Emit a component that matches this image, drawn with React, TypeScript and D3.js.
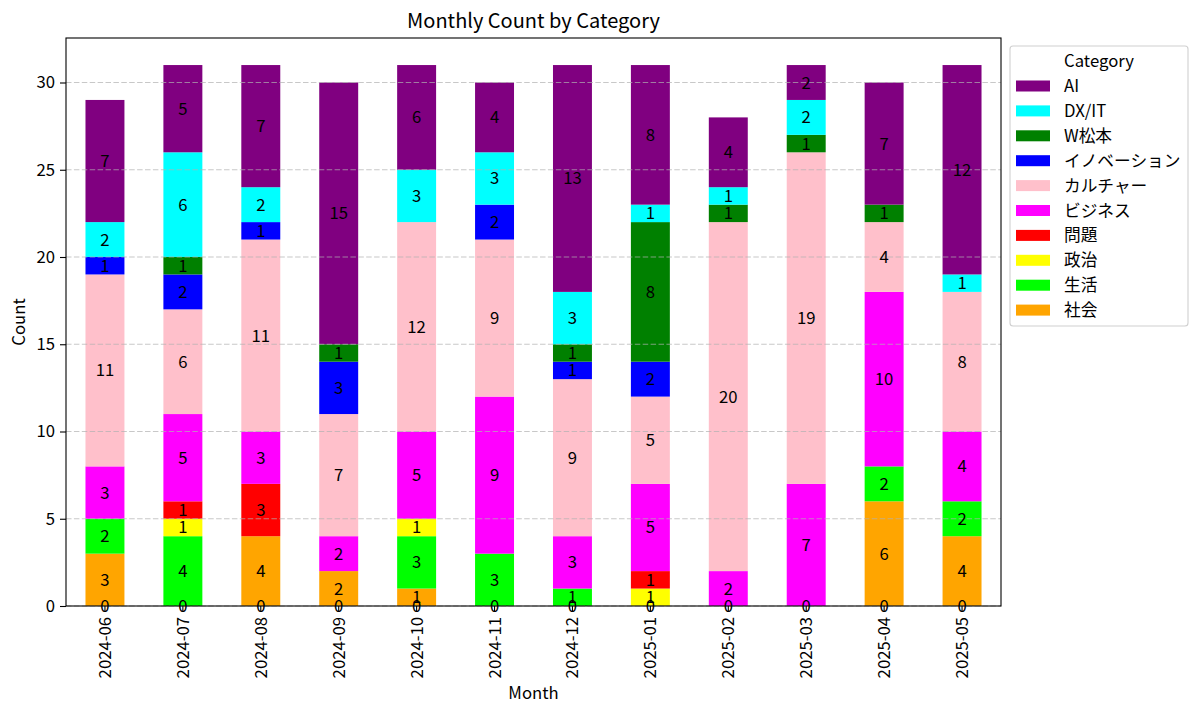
import * as React from 'react';
import * as d3 from 'd3';
import {useEffect, useRef} from 'react';

const months = ['2024-06', '2024-07', '2024-08', '2024-09', '2024-10', '2024-11',
    '2024-12', '2025-01', '2025-02', '2025-03', '2025-04', '2025-05'];

// stack order, bottom to top
const categories = ['社会', '生活', '政治', '問題', 'ビジネス', 'カルチャー', 'イノベーション', 'W松本', 'DX/IT', 'AI'];
const colors = ['#ffa500', '#00ff00', '#ffff00', '#ff0000', '#ff00ff', '#ffc0cb', '#0000ff', '#008000', '#00ffff', '#800080'];

const shakai = [3, 0, 4, 2, 1, 0, 0, 0, 0, 0, 6, 4];
const seikatsu = [2, 4, 0, 0, 3, 3, 1, 0, 0, 0, 2, 2];
const seiji = [0, 1, 0, 0, 1, 0, 0, 1, 0, 0, 0, 0];
const mondai = [0, 1, 3, 0, 0, 0, 0, 1, 0, 0, 0, 0];
const business = [3, 5, 3, 2, 5, 9, 3, 5, 2, 7, 10, 4];
const culture = [11, 6, 11, 7, 12, 9, 9, 5, 20, 19, 4, 8];
const innovation = [1, 2, 1, 3, 0, 2, 1, 2, 0, 0, 0, 0];
const wMatsumoto = [0, 1, 0, 1, 0, 0, 1, 8, 1, 1, 1, 0];
const dxit = [2, 6, 2, 0, 3, 3, 3, 1, 1, 2, 0, 1];
const ai = [7, 5, 7, 15, 6, 4, 13, 8, 4, 2, 7, 12];

const series = [shakai, seikatsu, seiji, mondai, business, culture, innovation, wMatsumoto, dxit, ai];
const yTicks = [0, 5, 10, 15, 20, 25, 30];

const FONT = '"Noto Sans CJK JP", "Noto Sans", sans-serif';
const FS = 16.7;
const margins = {left: 66, right: 199, top: 38, bottom: 109};
const W = 1200;
const H = 715;

export default function App() {
    const svgRef = useRef<SVGSVGElement>(null);

    useEffect(() => {
        const svg = d3.select(svgRef.current);
        svg.selectAll('*').remove();

        const rows = months.map((m, i) => {
            const row: any = {month: m};
            categories.forEach((c, k) => row[c] = series[k][i]);
            return row;
        });
        const stacked = d3.stack().keys(categories)(rows);

        const x = d3.scaleBand().domain(months)
            .range([margins.left, W - margins.right]).paddingInner(0.5).paddingOuter(0.25);
        const total = d3.max(rows, (r: any) => d3.sum(categories, c => r[c])) as number;
        const y = d3.scaleLinear().domain([0, total * 1.05]).range([H - margins.bottom, margins.top]);

        // bars
        stacked.forEach((layer: any, k: number) => {
            svg.append('g').attr('fill', colors[k])
                .selectAll('rect').data(layer).enter().append('rect')
                .attr('x', (d: any) => x(d.data.month))
                .attr('width', x.bandwidth())
                .attr('y', (d: any) => y(d[1]))
                .attr('height', (d: any) => y(d[0]) - y(d[1]));
        });

        // grid on top of the bars
        svg.append('g').selectAll('line').data(yTicks).enter().append('line')
            .attr('x1', margins.left).attr('x2', W - margins.right)
            .attr('y1', d => y(d)).attr('y2', d => y(d))
            .attr('stroke', '#b0b0b0').attr('stroke-opacity', 0.7)
            .attr('stroke-width', 1.1).attr('stroke-dasharray', '5.5,2.4');

        // segment labels (zero values sit on the baseline)
        const labels: any[] = [];
        months.forEach((m, i) => {
            let zeroDone = false;
            stacked.forEach((layer: any) => {
                const d = layer[i];
                const v = d[1] - d[0];
                if (v === 0) {
                    if (zeroDone) return;
                    zeroDone = true;
                    labels.push({m, v, pos: 0});
                } else {
                    labels.push({m, v, pos: (d[0] + d[1]) / 2});
                }
            });
        });
        svg.append('g').selectAll('text').data(labels).enter().append('text')
            .attr('x', d => x(d.m) + x.bandwidth() / 2)
            .attr('y', d => y(d.pos))
            .attr('dy', '0.36em')
            .attr('text-anchor', 'middle')
            .attr('font-family', FONT).attr('font-size', FS).attr('fill', '#000')
            .text(d => d.v);

        // axes
        const gx = svg.append('g').attr('transform', `translate(0 ${H - margins.bottom})`)
            .call(d3.axisBottom(x).tickSize(6).tickPadding(4).tickSizeOuter(0));
        gx.selectAll('text')
            .attr('transform', 'rotate(-90)')
            .attr('text-anchor', 'end')
            .attr('x', -11).attr('y', 0).attr('dy', '0.36em');
        const gy = svg.append('g').attr('transform', `translate(${margins.left} 0)`)
            .call(d3.axisLeft(y).tickValues(yTicks).tickSize(6).tickPadding(5).tickSizeOuter(0));
        [gx, gy].forEach(g => {
            g.select('.domain').remove();
            g.selectAll('line').attr('stroke', '#000').attr('stroke-width', 1.1);
            g.selectAll('text').attr('font-family', FONT).attr('font-size', FS).attr('fill', '#000');
        });

        // spines
        svg.append('rect')
            .attr('x', margins.left).attr('y', margins.top)
            .attr('width', W - margins.left - margins.right)
            .attr('height', H - margins.top - margins.bottom)
            .attr('fill', 'none').attr('stroke', '#000').attr('stroke-width', 1.1);

        // titles
        svg.append('text').attr('x', (margins.left + W - margins.right) / 2).attr('y', 28)
            .attr('text-anchor', 'middle').attr('font-family', FONT).attr('font-size', 20)
            .text('Monthly Count by Category');
        svg.append('text').attr('x', (margins.left + W - margins.right) / 2).attr('y', 699)
            .attr('text-anchor', 'middle').attr('font-family', FONT).attr('font-size', FS)
            .text('Month');
        svg.append('text')
            .attr('transform', `translate(25 ${(margins.top + H - margins.bottom) / 2}) rotate(-90)`)
            .attr('text-anchor', 'middle').attr('font-family', FONT).attr('font-size', FS)
            .text('Count');

        // legend, reversed order
        const legend = svg.append('g');
        legend.append('rect')
            .attr('x', 1010).attr('y', 46).attr('width', 178).attr('height', 280)
            .attr('rx', 3).attr('fill', '#fff').attr('fill-opacity', 0.8)
            .attr('stroke', '#d0d0d0').attr('stroke-width', 1.1);
        legend.append('text').attr('x', 1099).attr('y', 61).attr('dy', '0.36em')
            .attr('text-anchor', 'middle').attr('font-family', FONT).attr('font-size', FS)
            .text('Category');
        const items = categories.map((c, k) => ({c, color: colors[k]})).reverse();
        const entry = legend.selectAll('g.item').data(items).enter().append('g')
            .attr('transform', (d, i) => `translate(1016 ${86 + i * 24.9})`);
        entry.append('rect').attr('x', 0).attr('y', -5.5).attr('width', 34).attr('height', 11)
            .attr('fill', d => d.color);
        entry.append('text').attr('x', 48).attr('y', 0).attr('dy', '0.36em')
            .attr('font-family', FONT).attr('font-size', FS).text(d => d.c);
    }, []);

    return (
        <svg ref={svgRef} width={W} height={H} viewBox={`0 0 ${W} ${H}`}
             style={{position: 'absolute', left: 0, top: 0, background: '#fff'}}/>
    );
}
